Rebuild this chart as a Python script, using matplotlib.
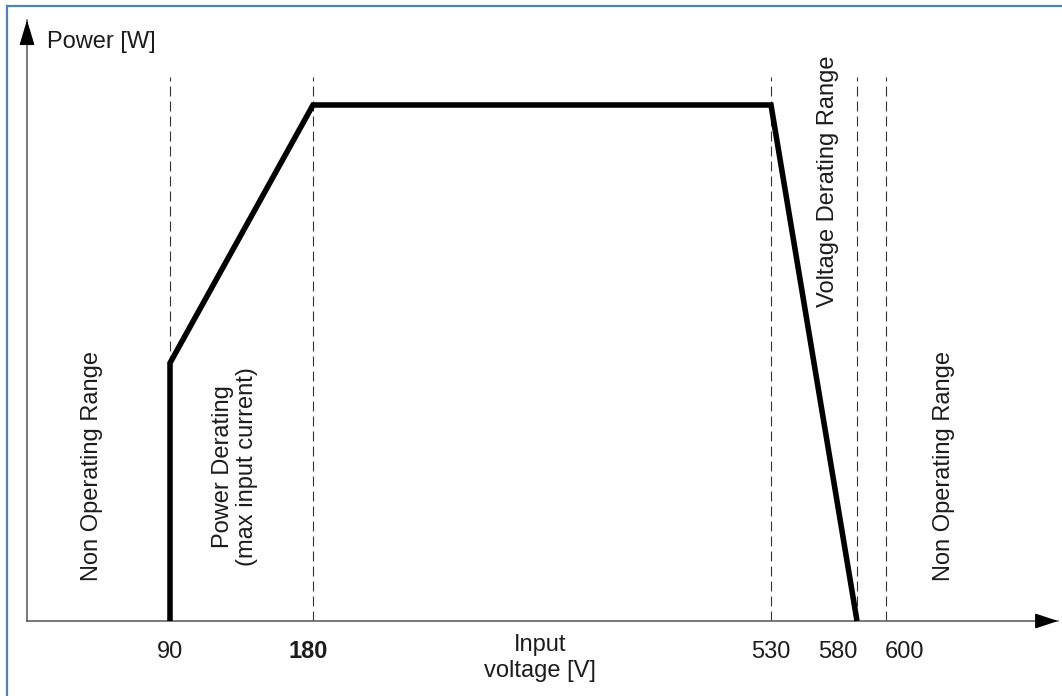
import numpy as np
import matplotlib
matplotlib.use("Agg")
import matplotlib.pyplot as plt
from matplotlib.lines import Line2D

plt.rcParams['font.family'] = ['Liberation Sans', 'DejaVu Sans']

# data (schematic, power normalised to rated power)
voltage = [90, 90, 180, 530, 580]
power = [0, 0.5, 1.0, 1.0, 0]
boundaries = [90, 180, 530, 580, 600]
tick_labels = ["90", "180", "530", "580", "600"]
tick_bold = [False, True, False, False, False]
tick_shift = [0, -3.5, 0, -13.7, 13]   # points, to keep labels apart

# the drawing is not to scale: piecewise axis
v_brk = [0, 180, 530, 580, 600, 700]
p_brk = [27, 313, 771, 857, 886, 1058]

def fwd(v):
    return np.interp(v, v_brk, p_brk)

def inv(p):
    return np.interp(p, p_brk, v_brk)

TXT = "#1c1c1c"
FS = 17

fig = plt.figure(figsize=(10.62, 6.96), dpi=100)
ax = fig.add_axes([27/1062, 75/696, 1031/1062, 601/696])
ax.set_xscale("function", functions=(fwd, inv))
ax.set_xlim(0, 700)
ax.set_ylim(0, 601/516)

for s in ["top", "right"]:
    ax.spines[s].set_visible(False)
for s in ["left", "bottom"]:
    ax.spines[s].set_color("#555555")
    ax.spines[s].set_linewidth(1.1)
ax.set_xticks([])
ax.set_yticks([])
ax.minorticks_off()

# arrow heads
ax.annotate("", xy=(1, 0), xytext=(1 - 20/1031, 0), xycoords="axes fraction",
            arrowprops=dict(arrowstyle="-|>,head_length=1.0,head_width=0.33",
                            mutation_scale=14.4, color="black", lw=1,
                            shrinkA=0, shrinkB=0), annotation_clip=False)
ax.annotate("", xy=(0, 1), xytext=(0, 1 - 22/601), xycoords="axes fraction",
            arrowprops=dict(arrowstyle="-|>,head_length=1.0,head_width=0.3",
                            mutation_scale=15.8, color="black", lw=1,
                            shrinkA=0, shrinkB=0), annotation_clip=False)

# dashed range boundaries
for b in boundaries:
    ax.axvline(b, ymin=0, ymax=544/601, color="#333333", lw=0.8,
               linestyle=(0, (9, 4.5)), zorder=1)

# power curve
ax.plot(voltage, power, color="black", lw=4, solid_joinstyle="miter",
        solid_capstyle="butt", clip_on=False, zorder=3)

# tick labels
for v, lab, b, dx in zip(boundaries, tick_labels, tick_bold, tick_shift):
    ax.annotate(lab, xy=(v, 0), xytext=(dx, -22.3), textcoords="offset points",
                ha="center", va="center", fontsize=FS, color=TXT,
                fontweight="bold" if b else "normal", annotation_clip=False)

# region labels
ax.text(41, 0.30, "Non Operating Range", rotation=90, ha="center", va="center",
        fontsize=FS, color=TXT)
ax.text(131, 0.30, "Power Derating\n(max input current)", rotation=90,
        ha="center", va="center", multialignment="center", fontsize=FS,
        color=TXT, linespacing=1.15)
ax.text(563, 0.853, "Voltage Derating Range", rotation=90, ha="center",
        va="center", fontsize=FS, color=TXT)
ax.text(634, 0.30, "Non Operating Range", rotation=90, ha="center", va="center",
        fontsize=FS, color=TXT)

# axis titles
fig.text(47/1062, 1 - 42/696, "Power [W]", ha="left", va="center",
         fontsize=FS, color=TXT)
fig.text(540/1062, 1 - 658/696, "Input\nvoltage [V]", ha="center", va="center",
         fontsize=FS, color=TXT, linespacing=1.2)

# blue frame of the screenshot
fig.add_artist(Line2D([7/1062, 1], [1 - 6/696, 1 - 6/696], color="#4F81BD",
                      lw=1.6, transform=fig.transFigure))
fig.add_artist(Line2D([7/1062, 7/1062], [0, 1 - 6/696], color="#4F81BD",
                      lw=1.6, transform=fig.transFigure))

fig.savefig("out.png", dpi=100)
